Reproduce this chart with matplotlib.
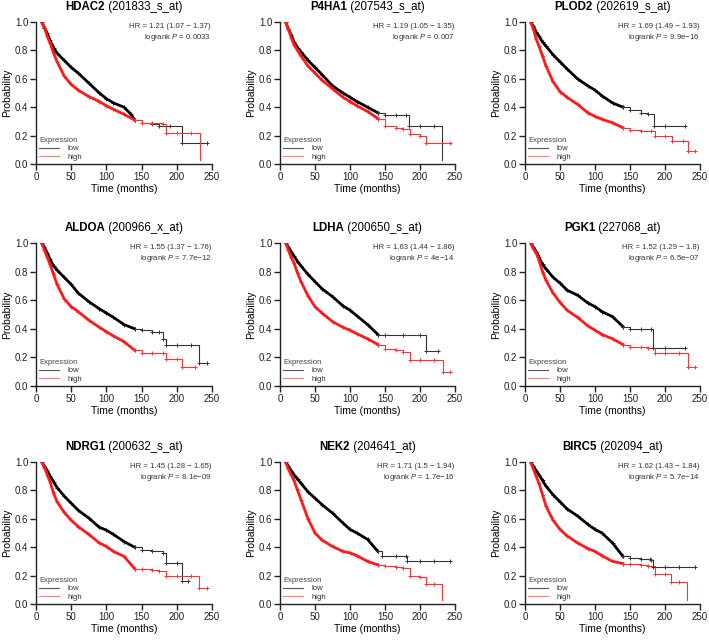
import matplotlib
matplotlib.use("Agg")
import matplotlib.pyplot as plt

plt.rcParams['font.family'] = ['Liberation Sans', 'DejaVu Sans']
plt.rcParams['mathtext.fontset'] = 'custom'
plt.rcParams['mathtext.rm'] = 'Liberation Sans'
plt.rcParams['mathtext.it'] = 'Liberation Sans:italic'

# ---- data (time in months, survival probability) ----
genes = ["HDAC2", "P4HA1", "PLOD2", "ALDOA", "LDHA", "PGK1", "NDRG1", "NEK2", "BIRC5"]
probes = ["201833_s_at", "207543_s_at", "202619_s_at", "200966_x_at", "200650_s_at",
          "227068_at", "200632_s_at", "204641_at", "202094_at"]
hr_text = ["1.21 (1.07 \u2212 1.37)", "1.19 (1.05 \u2212 1.35)", "1.69 (1.49 \u2212 1.93)",
           "1.55 (1.37 \u2212 1.76)", "1.63 (1.44 \u2212 1.86)", "1.52 (1.29 \u2212 1.8)",
           "1.45 (1.28 \u2212 1.65)", "1.71 (1.5 \u2212 1.94)", "1.62 (1.43 \u2212 1.84)"]
p_text = ["0.0033", "0.007", "9.9e\u221216", "7.7e\u221212", "4e\u221214",
          "6.5e\u221207", "8.1e\u221209", "1.7e\u221216", "5.7e\u221214"]

hdac2_low_t = [8, 12, 16, 20, 25, 30, 40, 50, 60, 75, 90, 100, 110, 125, 135, 140, 150, 165, 175, 190, 208, 243]
hdac2_low_s = [1.0, 0.96, 0.92, 0.87, 0.82, 0.78, 0.73, 0.68, 0.64, 0.57, 0.50, 0.46, 0.43, 0.40, 0.35, 0.31, 0.29, 0.28, 0.27, 0.27, 0.15, 0.15]
hdac2_high_t = [8, 12, 16, 20, 25, 30, 40, 50, 60, 75, 90, 100, 110, 125, 140, 150, 165, 180, 185, 200, 220, 233]
hdac2_high_s = [1.0, 0.96, 0.90, 0.85, 0.78, 0.72, 0.62, 0.56, 0.52, 0.475, 0.44, 0.41, 0.385, 0.35, 0.31, 0.29, 0.29, 0.28, 0.22, 0.22, 0.22, 0.03]

p4ha1_low_t = [8, 12, 16, 20, 25, 30, 40, 50, 60, 75, 90, 100, 110, 125, 140, 150, 165, 180, 184, 200, 220, 231]
p4ha1_low_s = [1.0, 0.95, 0.91, 0.86, 0.82, 0.79, 0.73, 0.68, 0.63, 0.55, 0.50, 0.47, 0.44, 0.40, 0.36, 0.345, 0.345, 0.345, 0.27, 0.27, 0.27, 0.03]
p4ha1_high_t = [8, 12, 16, 20, 25, 30, 40, 50, 60, 75, 90, 100, 110, 125, 140, 150, 165, 175, 185, 200, 208, 243]
p4ha1_high_s = [1.0, 0.95, 0.89, 0.84, 0.80, 0.76, 0.69, 0.64, 0.59, 0.53, 0.47, 0.44, 0.41, 0.37, 0.32, 0.265, 0.255, 0.25, 0.21, 0.20, 0.145, 0.145]

plod2_low_t = [8, 12, 16, 20, 25, 30, 40, 50, 60, 75, 90, 100, 110, 125, 140, 150, 165, 175, 184, 200, 228]
plod2_low_s = [1.0, 0.97, 0.93, 0.90, 0.86, 0.83, 0.77, 0.72, 0.67, 0.60, 0.55, 0.52, 0.48, 0.43, 0.40, 0.38, 0.36, 0.35, 0.265, 0.265, 0.265]
plod2_high_t = [8, 12, 16, 20, 25, 30, 40, 50, 60, 75, 90, 100, 110, 125, 140, 150, 165, 180, 185, 200, 210, 225, 233, 243]
plod2_high_s = [1.0, 0.95, 0.88, 0.83, 0.76, 0.69, 0.58, 0.51, 0.47, 0.42, 0.36, 0.335, 0.315, 0.29, 0.255, 0.24, 0.235, 0.23, 0.20, 0.195, 0.16, 0.16, 0.09, 0.09]

aldoa_low_t = [8, 12, 16, 20, 25, 30, 40, 50, 60, 75, 90, 100, 110, 125, 140, 150, 165, 175, 180, 185, 200, 220, 232, 243]
aldoa_low_s = [1.0, 0.97, 0.93, 0.885, 0.84, 0.81, 0.76, 0.71, 0.65, 0.59, 0.54, 0.51, 0.48, 0.43, 0.40, 0.39, 0.38, 0.375, 0.33, 0.29, 0.29, 0.29, 0.16, 0.16]
aldoa_high_t = [8, 12, 16, 20, 25, 30, 40, 50, 60, 75, 90, 100, 110, 125, 140, 150, 165, 180, 185, 200, 208, 226]
aldoa_high_s = [1.0, 0.95, 0.90, 0.85, 0.78, 0.71, 0.61, 0.555, 0.52, 0.46, 0.41, 0.38, 0.35, 0.31, 0.25, 0.23, 0.23, 0.23, 0.19, 0.19, 0.135, 0.135]

ldha_low_t = [8, 12, 16, 20, 25, 30, 40, 50, 60, 75, 90, 100, 110, 125, 140, 150, 175, 200, 209, 225]
ldha_low_s = [1.0, 0.97, 0.94, 0.91, 0.87, 0.84, 0.78, 0.73, 0.68, 0.625, 0.56, 0.53, 0.49, 0.43, 0.36, 0.355, 0.355, 0.355, 0.245, 0.245]
ldha_high_t = [8, 12, 16, 20, 25, 30, 40, 50, 60, 75, 90, 100, 110, 125, 140, 150, 165, 175, 185, 200, 220, 233, 243]
ldha_high_s = [1.0, 0.95, 0.90, 0.86, 0.79, 0.73, 0.63, 0.555, 0.51, 0.45, 0.41, 0.39, 0.365, 0.33, 0.29, 0.26, 0.25, 0.24, 0.18, 0.18, 0.18, 0.10, 0.10]

pgk1_low_t = [8, 12, 16, 20, 25, 30, 40, 50, 60, 75, 90, 100, 110, 125, 140, 150, 165, 180, 183, 200, 228]
pgk1_low_s = [1.0, 0.97, 0.94, 0.90, 0.85, 0.82, 0.76, 0.72, 0.67, 0.635, 0.58, 0.555, 0.52, 0.485, 0.415, 0.40, 0.40, 0.40, 0.265, 0.265, 0.265]
pgk1_high_t = [8, 12, 16, 20, 25, 30, 40, 50, 60, 75, 90, 100, 110, 125, 140, 150, 165, 175, 185, 200, 220, 233, 243]
pgk1_high_s = [1.0, 0.96, 0.93, 0.88, 0.80, 0.74, 0.65, 0.585, 0.53, 0.48, 0.42, 0.39, 0.36, 0.33, 0.29, 0.275, 0.27, 0.265, 0.23, 0.23, 0.23, 0.13, 0.13]

ndrg1_low_t = [8, 12, 16, 20, 25, 30, 40, 50, 60, 75, 90, 100, 110, 125, 140, 150, 165, 180, 185, 200, 208, 216]
ndrg1_low_s = [1.0, 0.97, 0.94, 0.90, 0.86, 0.82, 0.76, 0.71, 0.66, 0.605, 0.54, 0.52, 0.49, 0.44, 0.40, 0.38, 0.375, 0.36, 0.29, 0.29, 0.16, 0.16]
ndrg1_high_t = [8, 12, 16, 20, 25, 30, 40, 50, 60, 75, 90, 100, 110, 125, 140, 150, 165, 175, 185, 200, 220, 232, 243]
ndrg1_high_s = [1.0, 0.96, 0.91, 0.86, 0.78, 0.72, 0.645, 0.59, 0.545, 0.49, 0.43, 0.405, 0.37, 0.335, 0.25, 0.245, 0.24, 0.23, 0.195, 0.195, 0.195, 0.11, 0.11]

nek2_low_t = [8, 12, 16, 20, 25, 30, 40, 50, 60, 75, 90, 100, 110, 125, 140, 145, 165, 180, 182, 200, 220, 243]
nek2_low_s = [1.0, 0.97, 0.94, 0.91, 0.88, 0.85, 0.79, 0.745, 0.70, 0.64, 0.57, 0.525, 0.50, 0.455, 0.37, 0.34, 0.34, 0.34, 0.30, 0.30, 0.30, 0.30]
nek2_high_t = [8, 12, 16, 20, 25, 30, 40, 50, 60, 75, 90, 100, 110, 125, 140, 150, 165, 175, 185, 200, 208, 220, 232]
nek2_high_s = [1.0, 0.95, 0.91, 0.87, 0.80, 0.735, 0.60, 0.50, 0.45, 0.405, 0.37, 0.36, 0.34, 0.30, 0.275, 0.265, 0.26, 0.255, 0.195, 0.19, 0.14, 0.14, 0.03]

birc5_low_t = [8, 12, 16, 20, 25, 30, 40, 50, 60, 75, 90, 100, 110, 125, 140, 150, 165, 178, 180, 183, 200, 220, 243]
birc5_low_s = [1.0, 0.97, 0.94, 0.91, 0.87, 0.83, 0.77, 0.72, 0.67, 0.62, 0.56, 0.525, 0.50, 0.43, 0.335, 0.325, 0.32, 0.32, 0.31, 0.26, 0.26, 0.26, 0.26]
birc5_high_t = [8, 12, 16, 20, 25, 30, 40, 50, 60, 75, 90, 100, 110, 125, 140, 150, 165, 175, 185, 200, 208, 220, 232]
birc5_high_s = [1.0, 0.95, 0.90, 0.85, 0.77, 0.69, 0.59, 0.525, 0.48, 0.43, 0.39, 0.37, 0.34, 0.30, 0.285, 0.28, 0.275, 0.27, 0.21, 0.21, 0.155, 0.155, 0.03]

low_curves = [(hdac2_low_t, hdac2_low_s), (p4ha1_low_t, p4ha1_low_s), (plod2_low_t, plod2_low_s),
              (aldoa_low_t, aldoa_low_s), (ldha_low_t, ldha_low_s), (pgk1_low_t, pgk1_low_s),
              (ndrg1_low_t, ndrg1_low_s), (nek2_low_t, nek2_low_s), (birc5_low_t, birc5_low_s)]
high_curves = [(hdac2_high_t, hdac2_high_s), (p4ha1_high_t, p4ha1_high_s), (plod2_high_t, plod2_high_s),
               (aldoa_high_t, aldoa_high_s), (ldha_high_t, ldha_high_s), (pgk1_high_t, pgk1_high_s),
               (ndrg1_high_t, ndrg1_high_s), (nek2_high_t, nek2_high_s), (birc5_high_t, birc5_high_s)]

W, H = 709, 640
fig = plt.figure(figsize=(W / 100, H / 100), dpi=100)
renderer = fig.canvas.get_renderer()

# axes boxes in pixels: left, right / top(y=1.0), bottom(y=0)
col_x = [(36, 212), (280, 455), (525, 700)]
row_y = [(22, 164), (243, 386), (462, 604)]
DENSE_END = 140  # censor marks pile up before this, the curve looks like a thick band


def draw_curve(ax, t, s, color, tail_color):
    k = max(i for i in range(len(t)) if t[i] <= DENSE_END)
    # dense part: many tiny steps + censor ticks -> thick jagged band
    ax.plot(t[:k + 1], s[:k + 1], color=color, lw=2.0, solid_joinstyle='round', zorder=3)
    ax.plot(t[:k + 1], s[:k + 1], ls='none', marker='+', ms=3, mew=0.6, color=color, zorder=3)
    # sparse tail: plain KM steps
    ax.plot(t[k:], s[k:], drawstyle='steps-post', color=tail_color, lw=0.8, zorder=3)
    n = len(s) - 1 if s[-1] < 0.06 else len(s)  # final drop to the axis carries no tick
    ax.plot(t[k:n], s[k:n], ls='none', marker='+', ms=3.5, mew=0.7, color=tail_color, zorder=4)


def two_part_title(ax, bold, regular, width_px):
    y = 1.0 + 12 / 142
    t1 = ax.text(0, y, bold, transform=ax.transAxes, fontsize=8.3, fontweight='bold',
                 ha='left', va='baseline')
    t2 = ax.text(0, y, " (" + regular + ")", transform=ax.transAxes, fontsize=8.3,
                 ha='left', va='baseline')
    w1 = t1.get_window_extent(renderer).width
    w2 = t2.get_window_extent(renderer).width
    start = 0.5 - (w1 + w2) / 2 / width_px
    t1.set_x(start)
    t2.set_x(start + w1 / width_px)


for i in range(9):
    r, c = divmod(i, 3)
    x0, x1 = col_x[c]
    y0, y1 = row_y[r]
    ax = fig.add_axes([x0 / W, 1 - y1 / H, (x1 - x0) / W, (y1 - y0) / H])
    ax.set_xlim(0, 250)
    ax.set_ylim(0, 1.0)

    draw_curve(ax, *low_curves[i], color='black', tail_color='#333333')
    draw_curve(ax, *high_curves[i], color='#ff1a1a', tail_color='#ff3333')

    ax.set_xticks([0, 50, 100, 150, 200, 250])
    ax.set_yticks([0.0, 0.2, 0.4, 0.6, 0.8, 1.0])
    ax.set_yticklabels(["0.0", "0.2", "0.4", "0.6", "0.8", "1.0"])
    for side in ['top', 'right']:
        ax.spines[side].set_visible(False)
    for side in ['left', 'bottom']:
        ax.spines[side].set_linewidth(1.0)
        ax.spines[side].set_color('#222222')
    ax.tick_params(direction='out', length=4, width=1.0, labelsize=7, colors='#222222', pad=1.5)
    ax.set_xlabel("Time (months)", fontsize=7.5, labelpad=2)
    ax.set_ylabel("Probability", fontsize=7.5, labelpad=2)
    two_part_title(ax, genes[i], probes[i], x1 - x0)

    ax.text(0.995, 0.995, "HR = " + hr_text[i] + "\nlogrank $P$ = " + p_text[i],
            transform=ax.transAxes, ha='right', va='top', fontsize=5.6, color='#333333',
            linespacing=1.3)

    lines = [plt.Line2D([], [], color='#555555', lw=0.8), plt.Line2D([], [], color='#ff8080', lw=0.9)]
    leg = ax.legend(lines, ["low", "high"], title="Expression", loc='lower left',
                    bbox_to_anchor=(0.0, 0.0), frameon=False, fontsize=5.6, title_fontsize=5.6,
                    handlelength=2.6, handletextpad=1.0, labelspacing=0.15, borderaxespad=0.2,
                    borderpad=0.2, alignment='left')
    leg.get_title().set_color('#444444')
    for txt in leg.get_texts():
        txt.set_color('#333333')

fig.savefig("out.png", dpi=100, facecolor='white')
